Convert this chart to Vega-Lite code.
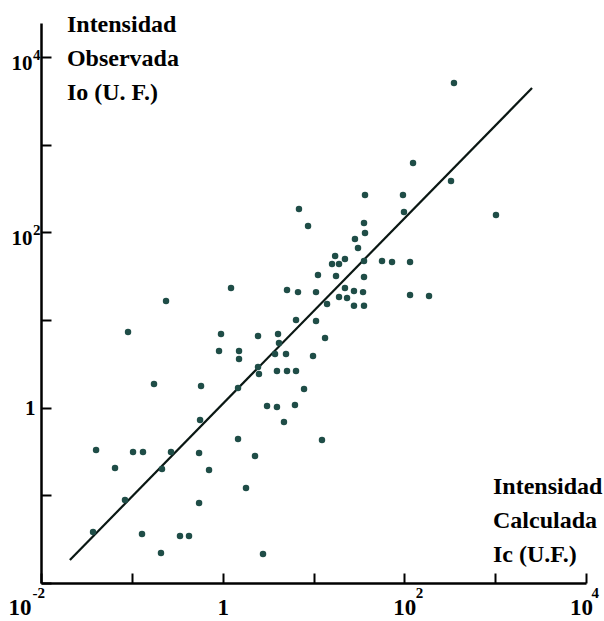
{
  "$schema": "https://vega.github.io/schema/vega-lite/v6.json",
  "width": 545,
  "height": 560,
  "autosize": {"type": "none"},
  "padding": {"left": 41, "top": 23, "right": 18, "bottom": 38},
  "background": "white",
  "config": {"view": {"stroke": null}},
  "resolve": {"axis": {"x": "independent", "y": "independent"}},
  "layer": [
    {
      "data": {"values": [{"x": 0.0208, "y": 0.0183}, {"x": 2547, "y": 4426}]},
      "mark": {"type": "line", "color": "#0a1713", "strokeWidth": 2.2},
      "encoding": {
        "x": {
          "field": "x", "type": "quantitative",
          "scale": {"type": "log", "domain": [0.01, 10000], "nice": false},
          "axis": {
            "orient": "bottom", "values": [0.01, 100, 10000], "title": null, "grid": false,
            "domain": false, "ticks": false, "tickSize": 0,
            "labelExpr": "datum.value < 0.011 ? '-2' : datum.value < 101 ? '2' : '4'",
            "labelFont": "Liberation Serif", "labelFontWeight": "bold", "labelFontSize": 15, "labelColor": "black",
            "labelBaseline": "top", "labelPadding": 2, "labelAlign": "left",
            "labelOffset": {"condition": [
              {"test": "datum.value < 0.011", "value": -9},
              {"test": "datum.value > 9999", "value": 5}
            ], "value": 11},
            "labelFlush": false, "labelOverlap": false, "labelBound": false
          }
        },
        "y": {
          "field": "y", "type": "quantitative",
          "scale": {"type": "log", "domain": [0.01, 24434], "nice": false},
          "axis": {
            "orient": "left", "values": [100, 10000], "title": null, "grid": false,
            "domain": false, "ticks": false, "tickSize": 0,
            "labelExpr": "datum.value < 101 ? '2' : '4'",
            "labelFont": "Liberation Serif", "labelFontWeight": "bold", "labelFontSize": 15, "labelColor": "black",
            "labelBaseline": "middle", "labelPadding": 1, "labelAlign": "right", "labelOffset": -3,
            "labelFlush": false, "labelOverlap": false, "labelBound": false
          }
        }
      }
    },
    {
      "data": {"values": [
        {"x": 1.236, "y": 23.2}, {"x": 5.11, "y": 22.0}, {"x": 6.75, "y": 20.8}, {"x": 10.66, "y": 20.8},
        {"x": 0.238, "y": 16.5}, {"x": 0.0908, "y": 7.29}, {"x": 6.42, "y": 10.0}, {"x": 10.66, "y": 9.73},
        {"x": 0.959, "y": 6.92}, {"x": 2.45, "y": 6.57}, {"x": 4.07, "y": 6.92}, {"x": 4.17, "y": 5.47},
        {"x": 0.912, "y": 4.43}, {"x": 1.514, "y": 4.43}, {"x": 1.514, "y": 3.59}, {"x": 3.77, "y": 4.09},
        {"x": 4.98, "y": 4.09}, {"x": 9.88, "y": 3.88}, {"x": 2.45, "y": 2.91}, {"x": 2.51, "y": 2.42},
        {"x": 3.96, "y": 2.62}, {"x": 5.11, "y": 2.62}, {"x": 6.42, "y": 2.62}, {"x": 0.1754, "y": 1.862},
        {"x": 0.578, "y": 1.766}, {"x": 1.476, "y": 1.676}, {"x": 7.87, "y": 1.633}, {"x": 3.08, "y": 1.044},
        {"x": 3.96, "y": 1.018}, {"x": 6.25, "y": 1.072}, {"x": 0.564, "y": 0.723}, {"x": 4.73, "y": 0.685},
        {"x": 1.476, "y": 0.44}, {"x": 12.4, "y": 0.428}, {"x": 0.0404, "y": 0.329}, {"x": 0.1031, "y": 0.312},
        {"x": 0.1327, "y": 0.312}, {"x": 0.27, "y": 0.312}, {"x": 0.55, "y": 0.304}, {"x": 2.27, "y": 0.281},
        {"x": 0.0653, "y": 0.205}, {"x": 0.2148, "y": 0.1995}, {"x": 0.708, "y": 0.1945}, {"x": 1.807, "y": 0.1214},
        {"x": 0.0841, "y": 0.0885}, {"x": 0.55, "y": 0.0818}, {"x": 0.0374, "y": 0.0382}, {"x": 0.1294, "y": 0.0362},
        {"x": 0.339, "y": 0.0344}, {"x": 0.426, "y": 0.0344}, {"x": 0.2094, "y": 0.022}, {"x": 2.78, "y": 0.0214},
        {"x": 352, "y": 5047}, {"x": 124.7, "y": 618}, {"x": 326.6, "y": 385}, {"x": 36.9, "y": 267},
        {"x": 96.6, "y": 267}, {"x": 6.92, "y": 184.5}, {"x": 99.1, "y": 170.6}, {"x": 1021, "y": 157.6},
        {"x": 8.71, "y": 118}, {"x": 35.97, "y": 127.7}, {"x": 36.9, "y": 98.2}, {"x": 28.6, "y": 83.9},
        {"x": 30.9, "y": 66.2}, {"x": 17.3, "y": 53.7}, {"x": 16.0, "y": 43.5}, {"x": 19.1, "y": 43.5},
        {"x": 22.2, "y": 49.6}, {"x": 35.97, "y": 47.1}, {"x": 56.8, "y": 47.1}, {"x": 73.2, "y": 45.8},
        {"x": 115.6, "y": 45.8}, {"x": 11.2, "y": 32.6}, {"x": 17.7, "y": 31.8}, {"x": 35.97, "y": 30.9},
        {"x": 22.2, "y": 23.2}, {"x": 27.9, "y": 21.4}, {"x": 35.1, "y": 20.8}, {"x": 19.1, "y": 18.3},
        {"x": 23.4, "y": 17.8}, {"x": 115.6, "y": 19.3}, {"x": 187, "y": 18.8}, {"x": 14.1, "y": 15.2},
        {"x": 27.9, "y": 14.5}, {"x": 35.97, "y": 14.5}, {"x": 13.4, "y": 6.24}
      ]},
      "mark": {"type": "circle", "size": 42, "opacity": 1, "color": "#1f4d47"},
      "encoding": {
        "x": {
          "field": "x", "type": "quantitative",
          "scale": {"type": "log", "domain": [0.01, 10000], "nice": false},
          "axis": {
            "orient": "bottom", "values": [0.01, 0.1, 1, 10, 100, 1000, 10000],
            "title": null, "grid": false,
            "domainColor": "black", "domainWidth": 2.5,
            "tickColor": "black", "tickWidth": 2, "tickSize": -10,
            "labelExpr": "datum.value == 1 ? '1' : (datum.value < 0.011 || (datum.value > 99 && datum.value < 101) || datum.value > 9999) ? '10' : ''",
            "labelFont": "Liberation Serif", "labelFontWeight": "bold", "labelFontSize": 23, "labelColor": "black",
            "labelPadding": 23, "labelBaseline": "top",
            "labelAlign": {"condition": {"test": "datum.value < 0.011", "value": "right"}, "value": "center"},
            "labelOffset": {"condition": [
              {"test": "datum.value < 0.011", "value": -10},
              {"test": "datum.value > 9999", "value": -5}
            ], "value": 0},
            "labelFlush": false, "labelOverlap": false, "labelBound": false
          }
        },
        "y": {
          "field": "y", "type": "quantitative",
          "scale": {"type": "log", "domain": [0.01, 24434], "nice": false},
          "axis": {
            "orient": "left", "values": [0.01, 0.1, 1, 10, 100, 1000, 10000],
            "title": null, "grid": false,
            "domainColor": "black", "domainWidth": 2.5,
            "tickColor": "black", "tickWidth": 2, "tickSize": -10,
            "labelExpr": "datum.value == 1 ? '1' : ((datum.value > 99 && datum.value < 101) || datum.value > 9999) ? '10' : ''",
            "labelFont": "Liberation Serif", "labelFontWeight": "bold", "labelFontSize": 21, "labelColor": "black",
            "labelBaseline": "middle", "labelAlign": "right",
            "labelPadding": {"condition": {"test": "datum.value == 1", "value": 16}, "value": 19},
            "labelOffset": {"condition": {"test": "datum.value == 1", "value": 1}, "value": 6},
            "labelFlush": false, "labelOverlap": false, "labelBound": false
          }
        }
      }
    },
    {
      "data": {"values": [
        {"x": 0.0193, "y": 19280, "label": "Intensidad\nObservada\nIo (U. F.)"},
        {"x": 946, "y": 0.1035, "label": "Intensidad\nCalculada\nIc (U.F.)"}
      ]},
      "mark": {"type": "text", "align": "left", "baseline": "alphabetic", "lineBreak": "\n", "lineHeight": 34, "font": "Liberation Serif", "fontWeight": "bold", "fontSize": 24, "color": "black"},
      "encoding": {
        "x": {"field": "x", "type": "quantitative", "scale": {"type": "log", "domain": [0.01, 10000], "nice": false}, "axis": null},
        "y": {"field": "y", "type": "quantitative", "scale": {"type": "log", "domain": [0.01, 24434], "nice": false}, "axis": null},
        "text": {"field": "label"}
      }
    }
  ]
}
